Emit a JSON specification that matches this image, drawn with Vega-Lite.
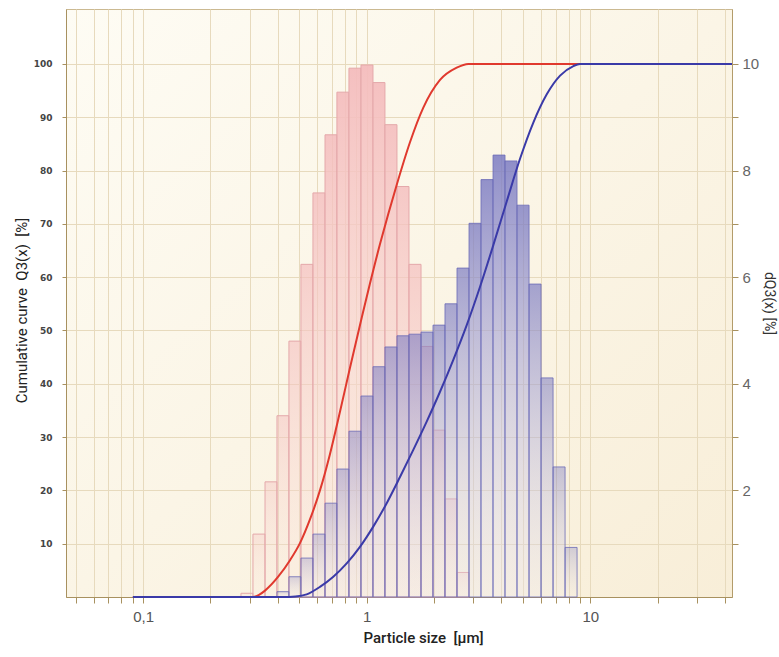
{
  "$schema": "https://vega.github.io/schema/vega-lite/v6.json",
  "width": 666,
  "height": 588,
  "autosize": {"type": "none"},
  "padding": {"left": 66, "top": 9, "right": 47, "bottom": 60},
  "background": "white",
  "view": {
    "fill": {"gradient": "linear", "x1": 0, "y1": 0, "x2": 1, "y2": 1, "stops": [{"offset": 0, "color": "#fefcf4"}, {"offset": 1, "color": "#f8eed8"}]},
    "stroke": "#cbb991",
    "strokeWidth": 1
  },
  "config": {
    "axis": {"gridColor": "#e7dabd", "gridWidth": 1, "gridOpacity": 1, "domainColor": "#a8915f", "tickColor": "#a8915f", "labelFont": "Liberation Sans", "titleFont": "Roboto"}
  },
  "datasets": {
    "bins": [
      {"s": "A", "lo": 0.274, "hi": 0.310, "dq": 0.07},
      {"s": "A", "lo": 0.310, "hi": 0.351, "dq": 1.18},
      {"s": "A", "lo": 0.351, "hi": 0.397, "dq": 2.16},
      {"s": "A", "lo": 0.397, "hi": 0.449, "dq": 3.40},
      {"s": "A", "lo": 0.449, "hi": 0.508, "dq": 4.80},
      {"s": "A", "lo": 0.508, "hi": 0.575, "dq": 6.24},
      {"s": "A", "lo": 0.575, "hi": 0.651, "dq": 7.58},
      {"s": "A", "lo": 0.651, "hi": 0.736, "dq": 8.67},
      {"s": "A", "lo": 0.736, "hi": 0.833, "dq": 9.47},
      {"s": "A", "lo": 0.833, "hi": 0.943, "dq": 9.92},
      {"s": "A", "lo": 0.943, "hi": 1.067, "dq": 9.98},
      {"s": "A", "lo": 1.067, "hi": 1.207, "dq": 9.65},
      {"s": "A", "lo": 1.207, "hi": 1.366, "dq": 8.86},
      {"s": "A", "lo": 1.366, "hi": 1.546, "dq": 7.70},
      {"s": "A", "lo": 1.546, "hi": 1.750, "dq": 6.24},
      {"s": "A", "lo": 1.750, "hi": 1.980, "dq": 4.70},
      {"s": "A", "lo": 1.980, "hi": 2.240, "dq": 3.13},
      {"s": "A", "lo": 2.240, "hi": 2.535, "dq": 1.84},
      {"s": "A", "lo": 2.535, "hi": 2.869, "dq": 0.46},
      {"s": "B", "lo": 0.397, "hi": 0.449, "dq": 0.10},
      {"s": "B", "lo": 0.449, "hi": 0.508, "dq": 0.38},
      {"s": "B", "lo": 0.508, "hi": 0.575, "dq": 0.73},
      {"s": "B", "lo": 0.575, "hi": 0.651, "dq": 1.18},
      {"s": "B", "lo": 0.651, "hi": 0.736, "dq": 1.76},
      {"s": "B", "lo": 0.736, "hi": 0.833, "dq": 2.40},
      {"s": "B", "lo": 0.833, "hi": 0.943, "dq": 3.11},
      {"s": "B", "lo": 0.943, "hi": 1.067, "dq": 3.77},
      {"s": "B", "lo": 1.067, "hi": 1.207, "dq": 4.32},
      {"s": "B", "lo": 1.207, "hi": 1.366, "dq": 4.69},
      {"s": "B", "lo": 1.366, "hi": 1.546, "dq": 4.90},
      {"s": "B", "lo": 1.546, "hi": 1.750, "dq": 4.93},
      {"s": "B", "lo": 1.750, "hi": 1.980, "dq": 4.97},
      {"s": "B", "lo": 1.980, "hi": 2.240, "dq": 5.10},
      {"s": "B", "lo": 2.240, "hi": 2.535, "dq": 5.50},
      {"s": "B", "lo": 2.535, "hi": 2.869, "dq": 6.17},
      {"s": "B", "lo": 2.869, "hi": 3.246, "dq": 7.01},
      {"s": "B", "lo": 3.246, "hi": 3.674, "dq": 7.83},
      {"s": "B", "lo": 3.674, "hi": 4.157, "dq": 8.29},
      {"s": "B", "lo": 4.157, "hi": 4.704, "dq": 8.18},
      {"s": "B", "lo": 4.704, "hi": 5.324, "dq": 7.35},
      {"s": "B", "lo": 5.324, "hi": 6.025, "dq": 5.87},
      {"s": "B", "lo": 6.025, "hi": 6.818, "dq": 4.11},
      {"s": "B", "lo": 6.818, "hi": 7.715, "dq": 2.44},
      {"s": "B", "lo": 7.715, "hi": 8.730, "dq": 0.93}
    ],
    "cum": [
      {"s": "A", "lo": 0.09, "q": 0},
      {"s": "A", "lo": 0.31, "q": 0},
      {"s": "A", "lo": 0.33, "q": 0.4},
      {"s": "A", "lo": 0.351, "q": 1.2},
      {"s": "A", "lo": 0.402, "q": 3.8},
      {"s": "A", "lo": 0.454, "q": 6.9},
      {"s": "A", "lo": 0.503, "q": 10.1},
      {"s": "A", "lo": 0.557, "q": 14.5},
      {"s": "A", "lo": 0.618, "q": 20.0},
      {"s": "A", "lo": 0.685, "q": 26.8},
      {"s": "A", "lo": 0.760, "q": 34.8},
      {"s": "A", "lo": 0.842, "q": 43.0},
      {"s": "A", "lo": 0.950, "q": 52.4},
      {"s": "A", "lo": 1.033, "q": 58.7},
      {"s": "A", "lo": 1.147, "q": 66.2},
      {"s": "A", "lo": 1.248, "q": 71.8},
      {"s": "A", "lo": 1.362, "q": 77.3},
      {"s": "A", "lo": 1.562, "q": 85.3},
      {"s": "A", "lo": 1.792, "q": 91.8},
      {"s": "A", "lo": 2.128, "q": 97.0},
      {"s": "A", "lo": 2.527, "q": 99.3},
      {"s": "A", "lo": 2.849, "q": 100},
      {"s": "A", "lo": 43.05, "q": 100},
      {"s": "B", "lo": 0.09, "q": 0},
      {"s": "B", "lo": 0.42, "q": 0},
      {"s": "B", "lo": 0.48, "q": 0.1},
      {"s": "B", "lo": 0.539, "q": 0.5},
      {"s": "B", "lo": 0.618, "q": 1.9},
      {"s": "B", "lo": 0.709, "q": 3.8},
      {"s": "B", "lo": 0.814, "q": 6.3},
      {"s": "B", "lo": 0.933, "q": 9.4},
      {"s": "B", "lo": 1.070, "q": 13.2},
      {"s": "B", "lo": 1.229, "q": 17.6},
      {"s": "B", "lo": 1.409, "q": 22.5},
      {"s": "B", "lo": 1.616, "q": 27.6},
      {"s": "B", "lo": 1.855, "q": 32.9},
      {"s": "B", "lo": 2.128, "q": 38.5},
      {"s": "B", "lo": 2.440, "q": 44.5},
      {"s": "B", "lo": 2.802, "q": 51.0},
      {"s": "B", "lo": 3.214, "q": 58.2},
      {"s": "B", "lo": 3.685, "q": 66.0},
      {"s": "B", "lo": 4.230, "q": 74.2},
      {"s": "B", "lo": 4.851, "q": 82.2},
      {"s": "B", "lo": 5.564, "q": 89.0},
      {"s": "B", "lo": 6.389, "q": 94.3},
      {"s": "B", "lo": 7.328, "q": 97.8},
      {"s": "B", "lo": 8.403, "q": 99.6},
      {"s": "B", "lo": 9.003, "q": 100},
      {"s": "B", "lo": 43.05, "q": 100}
    ]
  },
  "encoding": {
    "x": {
      "field": "lo", "type": "quantitative",
      "scale": {"type": "log", "domain": [0.0452, 43.05], "nice": false},
      "axis": {
        "title": "Particle size\u00a0\u00a0[µm]",
        "values": [0.05, 0.06, 0.07, 0.08, 0.09, 0.1, 0.2, 0.3, 0.4, 0.5, 0.6, 0.7, 0.8, 0.9, 1, 2, 3, 4, 5, 6, 7, 8, 9, 10, 20, 30, 40],
        "labelExpr": "datum.value == 0.1 ? '0,1' : (datum.value == 1 ? '1' : (datum.value == 10 ? '10' : ''))",
        "labelOverlap": false,
        "labelFontSize": 15,
        "labelColor": "#555555",
        "labelPadding": 6,
        "tickSize": 6,
        "grid": true,
        "titleFontSize": 15,
        "titleFontWeight": 500,
        "titleColor": "#222222",
        "titlePadding": 6,
        "titleX": 357
      }
    }
  },
  "layer": [
    {
      "data": {"name": "bins"},
      "layer": [
        {
          "transform": [{"filter": "datum.s === 'A'"}],
          "mark": {
            "type": "bar",
            "fill": {"gradient": "linear", "x1": 0, "y1": 0, "x2": 0, "y2": 1, "stops": [{"offset": 0, "color": "#f4bcbd"}, {"offset": 1, "color": "rgba(251,228,220,0.35)"}]},
            "stroke": "#e4a8aa",
            "strokeWidth": 1
          },
          "encoding": {
            "x2": {"field": "hi"},
            "y": {
              "field": "dq", "type": "quantitative",
              "scale": {"domain": [0, 11.03], "nice": false},
              "axis": {
                "orient": "right",
                "values": [1, 2, 3, 4, 5, 6, 7, 8, 9, 10],
                "labelExpr": "datum.value % 2 == 0 ? datum.label : ''",
                "grid": false,
                "tickSize": 6,
                "labelFontSize": 15,
                "labelColor": "#666666",
                "labelPadding": 4,
                "title": "dQ3(x)\u00a0[%]",
                "titleAngle": 90,
                "titleFontSize": 14,
                "titleFontWeight": "normal",
                "titleColor": "#333333",
                "titlePadding": 3,
                "domainColor": "#b39c6a"
              }
            },
            "y2": {"datum": 0},
            "fillOpacity": {"field": "dq", "type": "quantitative", "scale": {"domain": [0, 10], "range": [0.25, 0.95]}, "legend": null}
          }
        },
        {
          "transform": [{"filter": "datum.s === 'B'"}],
          "mark": {
            "type": "bar",
            "fill": {"gradient": "linear", "x1": 0, "y1": 0, "x2": 0, "y2": 1, "stops": [{"offset": 0, "color": "#7878c2"}, {"offset": 1, "color": "rgba(234,230,244,0.35)"}]},
            "stroke": "#6a6ab6",
            "strokeWidth": 1,
            "strokeOpacity": 0.8
          },
          "encoding": {
            "x2": {"field": "hi"},
            "y": {"field": "dq", "type": "quantitative", "scale": {"domain": [0, 11.03], "nice": false}},
            "y2": {"datum": 0},
            "fillOpacity": {"field": "dq", "type": "quantitative", "scale": {"domain": [0, 10], "range": [0.25, 0.95]}, "legend": null}
          }
        }
      ]
    },
    {
      "data": {"name": "cum"},
      "layer": [
        {
          "transform": [{"filter": "datum.s === 'A'"}],
          "mark": {"type": "line", "color": "#e0392e", "strokeWidth": 2, "interpolate": "monotone"},
          "encoding": {
            "y": {
              "field": "q", "type": "quantitative",
              "scale": {"domain": [0, 110.3], "nice": false},
              "axis": {
                "orient": "left",
                "values": [10, 20, 30, 40, 50, 60, 70, 80, 90, 100],
                "title": "Cumulative curve\u00a0\u00a0Q3(x)\u00a0\u00a0[%]",
                "grid": true,
                "tickSize": 4,
                "labelFont": "DejaVu Sans",
                "labelFontSize": 9,
                "labelFontWeight": "bold",
                "labelColor": "#444444",
                "labelPadding": 10,
                "titleFontSize": 15,
                "titleFontWeight": "normal",
                "titleColor": "#222222",
                "titlePadding": 4,
                "titleY": 301
              }
            }
          }
        },
        {
          "transform": [{"filter": "datum.s === 'B'"}],
          "mark": {"type": "line", "color": "#3a3aa8", "strokeWidth": 2, "interpolate": "monotone"},
          "encoding": {
            "y": {"field": "q", "type": "quantitative", "scale": {"domain": [0, 110.3], "nice": false}}
          }
        }
      ]
    }
  ],
  "resolve": {"scale": {"y": "independent"}}
}
